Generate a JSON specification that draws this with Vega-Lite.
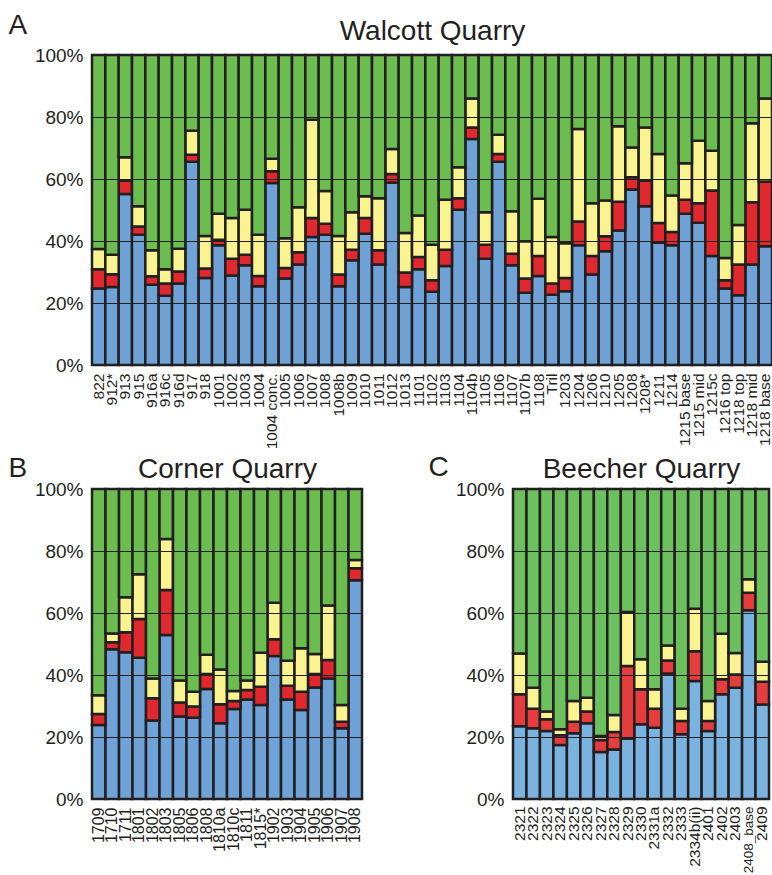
{
  "$schema": "https://vega.github.io/schema/vega-lite/v6.json",
  "padding": {"left": 8, "top": 12, "right": 0, "bottom": 0},
  "config": {
    "font": "Liberation Sans",
    "view": {"stroke": null},
    "axis": {"labelColor": "#231f20", "domain": false, "ticks": false},
    "axisY": {
      "gridColor": "#231f20", "gridWidth": 1, "gridOpacity": 1,
      "labelFontSize": 19, "labelPadding": 9,
      "labelExpr": "datum.value + '%'",
      "titleAngle": 0, "titleFontSize": 28, "titleFontWeight": "normal",
      "titleAlign": "center", "titleBaseline": "alphabetic", "titleColor": "#231f20"
    },
    "axisX": {"labelAngle": -90, "labelFontSize": 15.5, "labelPadding": 8, "labelOverlap": false, "labelBound": false, "title": null, "grid": false},
    "title": {"fontSize": 28, "fontWeight": "normal", "color": "#231f20", "baseline": "alphabetic", "anchor": "start", "frame": "bounds"},
    "bar": {"stroke": "#231f20", "strokeWidth": 2.5}
  },
  "datasets": {
    "walcott": [
      {"sample": "822", "top1": 24.7, "top2": 30.9, "top3": 37.4},
      {"sample": "912*", "top1": 25.2, "top2": 29.3, "top3": 35.6},
      {"sample": "913", "top1": 55.2, "top2": 59.5, "top3": 67.0},
      {"sample": "915", "top1": 42.0, "top2": 44.7, "top3": 51.2},
      {"sample": "916a", "top1": 25.9, "top2": 28.6, "top3": 37.0},
      {"sample": "916c", "top1": 22.3, "top2": 26.3, "top3": 30.9},
      {"sample": "916d", "top1": 26.3, "top2": 30.2, "top3": 37.5},
      {"sample": "917", "top1": 65.6, "top2": 67.8, "top3": 75.6},
      {"sample": "918", "top1": 28.1, "top2": 31.1, "top3": 41.6},
      {"sample": "1001", "top1": 38.6, "top2": 40.4, "top3": 48.8},
      {"sample": "1002", "top1": 28.9, "top2": 34.3, "top3": 47.4},
      {"sample": "1003", "top1": 32.2, "top2": 35.6, "top3": 50.1},
      {"sample": "1004", "top1": 25.4, "top2": 28.7, "top3": 42.0},
      {"sample": "1004 conc.", "top1": 58.7, "top2": 62.5, "top3": 66.5},
      {"sample": "1005", "top1": 27.9, "top2": 31.3, "top3": 40.9},
      {"sample": "1006", "top1": 32.4, "top2": 36.4, "top3": 50.9},
      {"sample": "1007", "top1": 41.3, "top2": 47.4, "top3": 79.1},
      {"sample": "1008", "top1": 42.0, "top2": 45.6, "top3": 56.1},
      {"sample": "1008b", "top1": 25.4, "top2": 29.2, "top3": 41.6},
      {"sample": "1009", "top1": 33.8, "top2": 37.2, "top3": 49.3},
      {"sample": "1010", "top1": 42.3, "top2": 47.4, "top3": 54.4},
      {"sample": "1011", "top1": 32.4, "top2": 37.0, "top3": 53.8},
      {"sample": "1012", "top1": 58.9, "top2": 61.6, "top3": 69.7},
      {"sample": "1013", "top1": 25.2, "top2": 29.8, "top3": 42.6},
      {"sample": "1101", "top1": 30.9, "top2": 34.8, "top3": 48.2},
      {"sample": "1102", "top1": 23.6, "top2": 27.3, "top3": 38.8},
      {"sample": "1103", "top1": 31.9, "top2": 37.2, "top3": 53.3},
      {"sample": "1104", "top1": 50.1, "top2": 53.8, "top3": 63.8},
      {"sample": "1104b", "top1": 72.9, "top2": 76.6, "top3": 86.0},
      {"sample": "1105", "top1": 34.3, "top2": 38.8, "top3": 49.3},
      {"sample": "1106", "top1": 65.6, "top2": 68.1, "top3": 74.3},
      {"sample": "1107", "top1": 32.2, "top2": 35.9, "top3": 49.6},
      {"sample": "1107b", "top1": 23.3, "top2": 27.9, "top3": 39.9},
      {"sample": "1108", "top1": 28.7, "top2": 35.2, "top3": 53.6},
      {"sample": "Tril", "top1": 22.7, "top2": 26.3, "top3": 41.3},
      {"sample": "1203", "top1": 23.8, "top2": 28.1, "top3": 39.3},
      {"sample": "1204", "top1": 38.6, "top2": 46.3, "top3": 76.1},
      {"sample": "1206", "top1": 29.2, "top2": 35.2, "top3": 52.2},
      {"sample": "1210", "top1": 36.7, "top2": 41.5, "top3": 53.1},
      {"sample": "1205", "top1": 43.4, "top2": 52.7, "top3": 77.0},
      {"sample": "1208", "top1": 56.6, "top2": 60.6, "top3": 70.2},
      {"sample": "1208*", "top1": 51.2, "top2": 59.5, "top3": 76.6},
      {"sample": "1211", "top1": 39.4, "top2": 45.8, "top3": 68.1},
      {"sample": "1214", "top1": 38.6, "top2": 42.9, "top3": 54.7},
      {"sample": "1215 base", "top1": 48.8, "top2": 53.3, "top3": 65.1},
      {"sample": "1215 mid", "top1": 45.9, "top2": 52.2, "top3": 72.3},
      {"sample": "1215c", "top1": 35.2, "top2": 56.3, "top3": 69.1},
      {"sample": "1216 top", "top1": 24.7, "top2": 27.3, "top3": 34.5},
      {"sample": "1218 top", "top1": 22.5, "top2": 32.4, "top3": 45.2},
      {"sample": "1218 mid", "top1": 32.4, "top2": 52.5, "top3": 78.0},
      {"sample": "1218 base", "top1": 38.3, "top2": 59.2, "top3": 86.0}
    ],
    "corner": [
      {"sample": "1709", "top1": 23.9, "top2": 27.4, "top3": 33.5},
      {"sample": "1710", "top1": 48.3, "top2": 50.6, "top3": 53.4},
      {"sample": "1711", "top1": 47.3, "top2": 53.8, "top3": 65.1},
      {"sample": "1801", "top1": 45.6, "top2": 58.1, "top3": 72.5},
      {"sample": "1802", "top1": 25.3, "top2": 32.5, "top3": 38.9},
      {"sample": "1803", "top1": 52.9, "top2": 67.4, "top3": 83.9},
      {"sample": "1805", "top1": 26.6, "top2": 31.1, "top3": 38.2},
      {"sample": "1806", "top1": 26.2, "top2": 29.8, "top3": 34.6},
      {"sample": "1808", "top1": 35.5, "top2": 40.3, "top3": 46.5},
      {"sample": "1810a", "top1": 24.4, "top2": 30.6, "top3": 41.8},
      {"sample": "1810c", "top1": 29.0, "top2": 31.6, "top3": 34.8},
      {"sample": "1811", "top1": 32.1, "top2": 35.2, "top3": 38.2},
      {"sample": "1815*", "top1": 30.3, "top2": 36.2, "top3": 47.2},
      {"sample": "1902", "top1": 46.1, "top2": 51.5, "top3": 63.3},
      {"sample": "1903", "top1": 32.1, "top2": 36.5, "top3": 44.6},
      {"sample": "1904", "top1": 28.7, "top2": 34.6, "top3": 48.6},
      {"sample": "1905", "top1": 36.0, "top2": 40.3, "top3": 46.8},
      {"sample": "1906", "top1": 38.9, "top2": 44.8, "top3": 62.4},
      {"sample": "1907", "top1": 22.8, "top2": 24.9, "top3": 30.3},
      {"sample": "1908", "top1": 70.6, "top2": 74.4, "top3": 77.1}
    ],
    "beecher": [
      {"sample": "2321", "top1": 23.5, "top2": 33.8, "top3": 46.9},
      {"sample": "2322", "top1": 22.8, "top2": 29.1, "top3": 35.9},
      {"sample": "2323", "top1": 21.9, "top2": 25.7, "top3": 28.2},
      {"sample": "2324", "top1": 17.4, "top2": 20.6, "top3": 22.5},
      {"sample": "2325", "top1": 21.2, "top2": 24.9, "top3": 31.6},
      {"sample": "2326", "top1": 24.4, "top2": 28.2, "top3": 32.7},
      {"sample": "2327", "top1": 15.2, "top2": 19.0, "top3": 20.3},
      {"sample": "2328", "top1": 16.0, "top2": 21.6, "top3": 27.1},
      {"sample": "2329", "top1": 19.5, "top2": 42.9, "top3": 60.3},
      {"sample": "2330", "top1": 24.1, "top2": 35.4, "top3": 45.1},
      {"sample": "2331a", "top1": 23.0, "top2": 29.1, "top3": 35.4},
      {"sample": "2332", "top1": 40.5, "top2": 44.7, "top3": 49.5},
      {"sample": "2333", "top1": 20.9, "top2": 25.2, "top3": 29.1},
      {"sample": "2334b(ii)", "top1": 38.1, "top2": 47.7, "top3": 61.4},
      {"sample": "2401", "top1": 21.9, "top2": 25.2, "top3": 31.6},
      {"sample": "2402", "top1": 33.8, "top2": 38.6, "top3": 53.3},
      {"sample": "2403", "top1": 35.9, "top2": 40.2, "top3": 47.1},
      {"sample": "2408_base", "top1": 60.9, "top2": 66.5, "top3": 70.9},
      {"sample": "2409", "top1": 30.5, "top2": 37.8, "top3": 44.3}
    ]
  },
  "spacing": 5,
  "vconcat": [
    {
      "data": {"name": "walcott"},
      "width": 680,
      "height": 310,
      "title": {"text": "A", "offset": -23, "dx": -26},
      "encoding": {
        "x": {"field": "sample", "type": "nominal", "sort": null, "scale": {"paddingInner": 0, "paddingOuter": 0}}
      },
      "layer": [
        {"mark": {"type": "bar", "color": "#6fa3d8"},
         "encoding": {"y": {"field": "top1", "type": "quantitative", "title": "Walcott Quarry", "scale": {"domain": [0, 100]},
           "axis": {"values": [0, 20, 40, 60, 80, 100], "grid": true, "zindex": 1, "titleX": 340, "titleY": -16}}}},
        {"mark": {"type": "bar", "color": "#e0282e"},
         "encoding": {"y": {"field": "top2", "type": "quantitative", "title": "Walcott Quarry"}, "y2": {"field": "top1"}}},
        {"mark": {"type": "bar", "color": "#f9f48f"},
         "encoding": {"y": {"field": "top3", "type": "quantitative", "title": "Walcott Quarry"}, "y2": {"field": "top2"}}},
        {"mark": {"type": "bar", "color": "#6bbd50"},
         "encoding": {"y": {"field": "top3", "type": "quantitative", "title": "Walcott Quarry"}, "y2": {"datum": 100}}}
      ]
    },
    {
      "spacing": 64,
      "hconcat": [
        {
          "data": {"name": "corner"},
          "width": 270,
          "height": 310,
          "title": {"text": "B", "offset": -28, "dx": -26},
          "encoding": {
            "x": {"field": "sample", "type": "nominal", "sort": null, "scale": {"paddingInner": 0, "paddingOuter": 0}, "axis": {"labelFontSize": 16}}
          },
          "layer": [
            {"mark": {"type": "bar", "color": "#6fa3d8"},
             "encoding": {"y": {"field": "top1", "type": "quantitative", "title": "Corner Quarry", "scale": {"domain": [0, 100]},
               "axis": {"values": [0, 20, 40, 60, 80, 100], "grid": true, "zindex": 1, "titleX": 135, "titleY": -12}}}},
            {"mark": {"type": "bar", "color": "#e0282e"},
             "encoding": {"y": {"field": "top2", "type": "quantitative", "title": "Corner Quarry"}, "y2": {"field": "top1"}}},
            {"mark": {"type": "bar", "color": "#f9f48f"},
             "encoding": {"y": {"field": "top3", "type": "quantitative", "title": "Corner Quarry"}, "y2": {"field": "top2"}}},
            {"mark": {"type": "bar", "color": "#6bbd50"},
             "encoding": {"y": {"field": "top3", "type": "quantitative", "title": "Corner Quarry"}, "y2": {"datum": 100}}}
          ]
        },
        {
          "data": {"name": "beecher"},
          "width": 256,
          "height": 310,
          "title": {"text": "C", "offset": -27, "dx": -27},
          "encoding": {
            "x": {"field": "sample", "type": "nominal", "sort": null, "scale": {"paddingInner": 0, "paddingOuter": 0},
              "axis": {"labelPadding": 7, "labelFontSize": {"expr": "datum.label === '2408_base' ? 13.5 : 15.5"}}}
          },
          "layer": [
            {"mark": {"type": "bar", "color": "#7ab3e0"},
             "encoding": {"y": {"field": "top1", "type": "quantitative", "title": "Beecher Quarry", "scale": {"domain": [0, 100]},
               "axis": {"values": [0, 20, 40, 60, 80, 100], "grid": true, "zindex": 1, "titleX": 128, "titleY": -12}}}},
            {"mark": {"type": "bar", "color": "#e53d3d"},
             "encoding": {"y": {"field": "top2", "type": "quantitative", "title": "Beecher Quarry"}, "y2": {"field": "top1"}}},
            {"mark": {"type": "bar", "color": "#f9f48f"},
             "encoding": {"y": {"field": "top3", "type": "quantitative", "title": "Beecher Quarry"}, "y2": {"field": "top2"}}},
            {"mark": {"type": "bar", "color": "#6dc05e"},
             "encoding": {"y": {"field": "top3", "type": "quantitative", "title": "Beecher Quarry"}, "y2": {"datum": 100}}}
          ]
        }
      ]
    }
  ]
}
